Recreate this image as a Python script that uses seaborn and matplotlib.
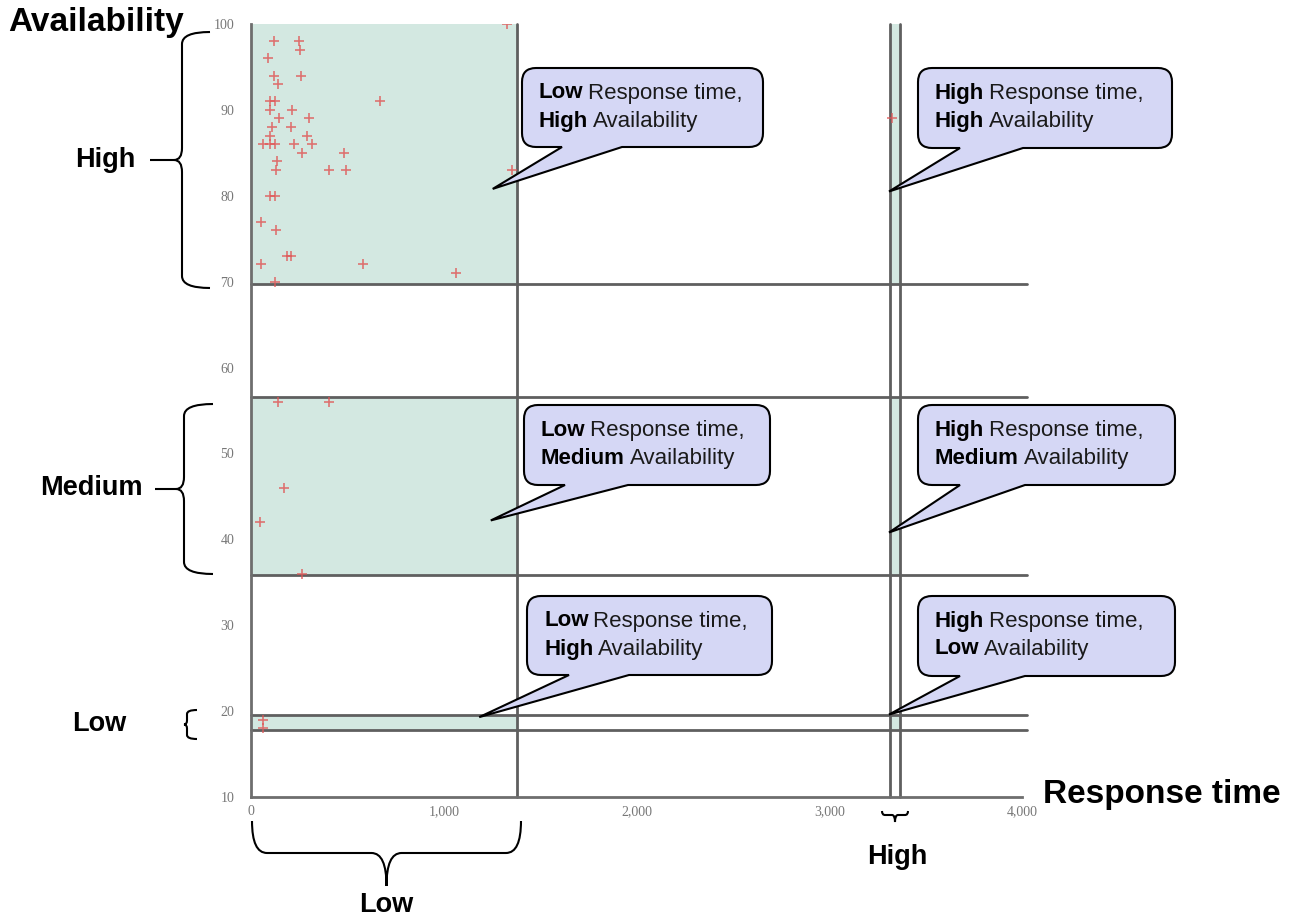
import matplotlib
matplotlib.use('Agg')
import matplotlib.pyplot as plt
from matplotlib.path import Path
from matplotlib.patches import PathPatch, Rectangle
from matplotlib.text import Annotation
from matplotlib.ticker import StrMethodFormatter
import seaborn as sns
import pandas as pd

# scatter data: response time (ms) vs availability (%)
resp_time = [1330, 120, 250, 255, 90, 120, 260, 140, 100, 125, 670, 100, 215,
             145, 300, 110, 210, 100, 290, 60, 100, 125, 225, 315, 265, 480,
             135, 130, 405, 495, 1355, 100, 125, 50, 130, 185, 205, 50, 580,
             1065, 125, 140, 405, 170, 45, 265, 60, 60, 3325]
availability = [100, 98, 98, 97, 96, 94, 94, 93, 91, 91, 91, 90, 90,
                89, 89, 88, 88, 87, 87, 86, 86, 86, 86, 86, 85, 85,
                84, 83, 83, 83, 83, 80, 80, 77, 76, 73, 73, 72, 72,
                71, 70, 56, 56, 46, 42, 36, 19, 18, 89]

# region limits
rt_low = (0, 1380)
rt_high = (3315, 3365)
av_bands = [(69.7, 100), (35.8, 56.6), (17.8, 19.6)]

x_ticks = [0, 1000, 2000, 3000, 4000]
y_ticks = list(range(10, 101, 10))

callout_text = [
    ('Low', 'Response time,', 'High', 'Availability'),
    ('High', 'Response time,', 'High', 'Availability'),
    ('Low', 'Response time,', 'Medium', 'Availability'),
    ('High', 'Response time,', 'Medium', 'Availability'),
    ('Low', 'Response time,', 'High', 'Availability'),
    ('High', 'Response time,', 'Low', 'Availability'),
]
# pointer tips in data coords
callout_tip = [(1254, 80.8), (3310, 80.5), (1244, 42.2), (3310, 40.8),
               (1184, 19.3), (3310, 19.6)]
# box (x0, y0, x1, y1) and pointer base in figure pixels (top origin)
callout_box = [(522, 68, 763, 147, 562, 622), (918, 68, 1172, 148, 960, 1023),
               (524, 405, 770, 485, 565, 628), (918, 405, 1175, 485, 960, 1025),
               (527, 596, 772, 675, 569, 629), (918, 596, 1175, 676, 960, 1025)]

W, H = 1299, 919
sns.set_style('white')
plt.rcParams['font.family'] = ['Liberation Sans', 'DejaVu Sans']

fig = plt.figure(figsize=(W / 100, H / 100), dpi=100)
ax = fig.add_axes([251 / W, 1 - 797 / H, 771 / W, 773 / H])


def fx(x, y):
    return (x / W, 1 - y / H)


band_fill = '#d3e8e1'
line_col = '#5f5f5f'
for lo, hi in av_bands:
    for r0, r1 in (rt_low, rt_high):
        ax.add_patch(Rectangle((r0, lo), r1 - r0, hi - lo, facecolor=band_fill,
                               edgecolor='none', zorder=1))
for lo, hi in av_bands:
    for v in (lo, hi):
        if v < 100:
            ax.plot([0, 4025], [v, v], color=line_col, lw=2, zorder=2, clip_on=False)
for v in (rt_low[1], rt_high[0], rt_high[1]):
    ax.plot([v, v], [10, 100], color=line_col, lw=2, zorder=2, clip_on=False)

df = pd.DataFrame({'Response time': resp_time, 'Availability': availability})
sns.scatterplot(data=df, x='Response time', y='Availability', marker='+', s=45,
                color='#e05555', linewidth=1.2, alpha=0.8, ax=ax, zorder=3)

ax.set_xlim(0, 4000)
ax.set_ylim(10, 100)
ax.set_xticks(x_ticks)
ax.set_yticks(y_ticks)
ax.xaxis.set_major_formatter(StrMethodFormatter('{x:,.0f}'))
ax.set_xlabel('')
ax.set_ylabel('')
ax.set_facecolor('none')
for s in ('top', 'right'):
    ax.spines[s].set_visible(False)
for s in ('left', 'bottom'):
    ax.spines[s].set_color('#6e6e6e')
    ax.spines[s].set_linewidth(2)
ax.tick_params(axis='y', direction='out', length=8, width=1, color='#888888',
               labelsize=10, labelcolor='#777777', pad=4)
ax.tick_params(axis='x', direction='in', length=8, width=1, color='#888888',
               labelsize=10, labelcolor='#777777', pad=6)
for lbl in ax.get_xticklabels() + ax.get_yticklabels():
    lbl.set_family('Liberation Serif')


def brace(p0, p1, n, depth, tip, r, stub=0):
    L = ((p1[0] - p0[0]) ** 2 + (p1[1] - p0[1]) ** 2) ** 0.5
    u = ((p1[0] - p0[0]) / L, (p1[1] - p0[1]) / L)

    def P(t, d):
        return fx(p0[0] + t * u[0] + d * n[0], p0[1] + t * u[1] + d * n[1])

    m = L / 2
    verts = [P(0, 0), P(0, depth), P(r, depth), P(m - r, depth),
             P(m, depth), P(m, tip), P(m, depth), P(m + r, depth),
             P(L - r, depth), P(L, depth), P(L, 0)]
    codes = [Path.MOVETO, Path.CURVE3, Path.CURVE3, Path.LINETO,
             Path.CURVE3, Path.CURVE3, Path.CURVE3, Path.CURVE3,
             Path.LINETO, Path.CURVE3, Path.CURVE3]
    if stub:
        verts += [P(m, tip), P(m, tip + stub)]
        codes += [Path.MOVETO, Path.LINETO]
    fig.add_artist(PathPatch(Path(verts, codes), fill=False, lw=1.5,
                             edgecolor='black', transform=fig.transFigure))


brace((210, 32), (210, 288), (-1, 0), 28, 36, 12, stub=24)
brace((213, 404), (213, 574), (-1, 0), 29, 37, 12, stub=21)
brace((197, 710), (197, 739), (-1, 0), 10, 13, 4)
brace((252, 821), (521, 821), (0, 1), 32, 65, 15)
brace((882, 811), (908, 811), (0, 1), 4, 11, 3)

big = dict(fontweight='bold', color='black')
fig.text(*fx(8, 22), 'Availability', fontsize=24, va='center', ha='left', **big)
fig.text(*fx(1043, 795), 'Response time', fontsize=24, va='center', ha='left', **big)
fig.text(*fx(75, 160), 'High', fontsize=19.5, va='center', ha='left', **big)
fig.text(*fx(40, 488), 'Medium', fontsize=19.5, va='center', ha='left', **big)
fig.text(*fx(72, 724), 'Low', fontsize=19.5, va='center', ha='left', **big)
fig.text(*fx(386, 905), 'Low', fontsize=19.5, va='center', ha='center', **big)
fig.text(*fx(897, 857), 'High', fontsize=19.5, va='center', ha='center', **big)


def bubble(box, tip):
    x0, y0, x1, y1, b1, b2 = box
    tx, ty = tip
    r = 14
    pts = [(x0 + r, y0), (x1 - r, y0), (x1, y0), (x1, y0 + r), (x1, y1 - r),
           (x1, y1), (x1 - r, y1), (b2, y1), (tx, ty), (b1, y1), (x0 + r, y1),
           (x0, y1), (x0, y1 - r), (x0, y0 + r), (x0, y0), (x0 + r, y0), (x0 + r, y0)]
    codes = [Path.MOVETO, Path.LINETO, Path.CURVE3, Path.CURVE3, Path.LINETO,
             Path.CURVE3, Path.CURVE3, Path.LINETO, Path.LINETO, Path.LINETO,
             Path.LINETO, Path.CURVE3, Path.CURVE3, Path.LINETO, Path.CURVE3,
             Path.CURVE3, Path.CLOSEPOLY]
    verts = [fx(px, py) for px, py in pts]
    fig.add_artist(PathPatch(Path(verts, codes), facecolor='#d5d7f5',
                             edgecolor='black', lw=1.5, zorder=4,
                             transform=fig.transFigure))


def rich_line(x, y, bold, rest, size=16):
    t = fig.text(*fx(x, y), bold, fontsize=size, fontweight='bold',
                 va='center', ha='left', zorder=5, color='black')
    a = Annotation(rest, xy=(1, 0), xycoords=t, xytext=(3.5, 0),
                   textcoords='offset points', va='bottom', ha='left',
                   fontsize=size, color='#1a1a1a', zorder=5)
    fig.add_artist(a)


for (b1, r1, b2, r2), tip, box in zip(callout_text, callout_tip, callout_box):
    disp = ax.transData.transform(tip)
    tipx = disp[0]
    tipy = H - disp[1]
    bubble(box, (tipx, tipy))
    rich_line(box[0] + 17, box[1] + 25, b1, r1)
    rich_line(box[0] + 17, box[1] + 53, b2, r2)

fig.savefig('out.png', dpi=100)
plt.close(fig)
